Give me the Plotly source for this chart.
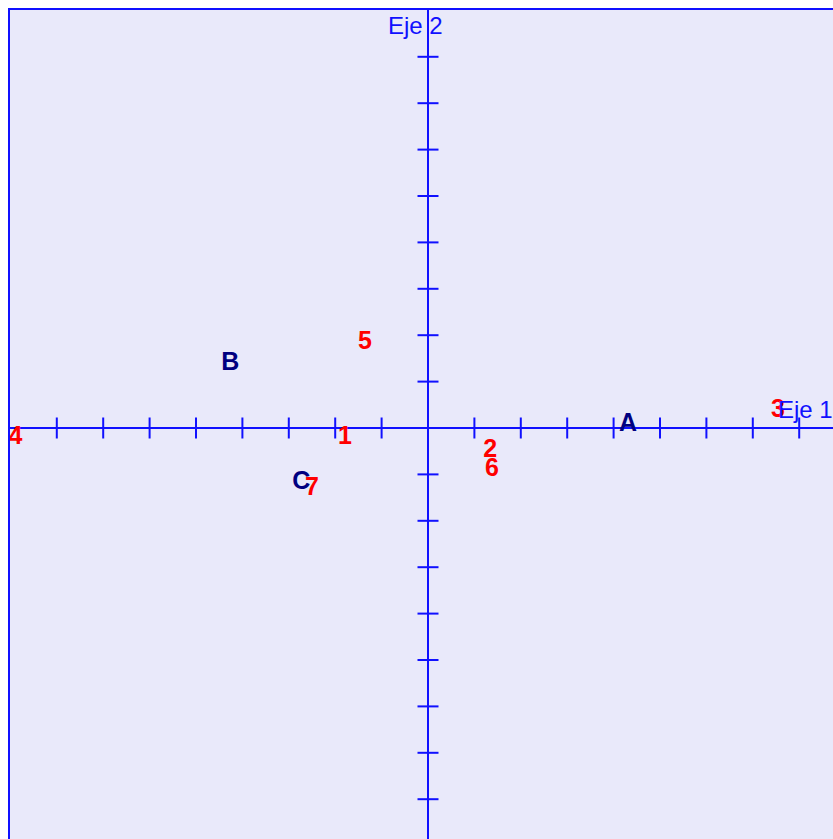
import plotly.graph_objects as go

# Row points (navy letters)
row_labels = ["A", "B", "C"]
row_x = [4.31, -4.26, -2.73]
row_y = [0.07, 1.39, -1.19]

# Column points (red numbers)
col_labels = ["1", "2", "3", "4", "5", "6", "7"]
col_x = [-1.79, 1.34, 7.54, -8.89, -1.36, 1.38, -2.50]
col_y = [-0.22, -0.50, 0.37, -0.22, 1.83, -0.89, -1.30]

# Tick positions along both axes
tick_vals = [-8, -7, -6, -5, -4, -3, -2, -1, 1, 2, 3, 4, 5, 6, 7, 8]

axis_titles = ["Eje 1", "Eje 2"]

S = 46.4  # px per unit
L, T = 10, 10
W, H = 833, 839
x0px = 428 - L
y0px = 428 - T
xmin = -x0px / S
xmax = (W - L - x0px) / S
ymax = y0px / S
ymin = -(H - T - y0px) / S

BLUE = "#1010FF"
fig = go.Figure()

# ticks on horizontal axis
fig.add_trace(go.Scatter(
    x=tick_vals, y=[0] * len(tick_vals), mode="markers",
    marker=dict(symbol="line-ns", size=15, line=dict(color=BLUE, width=2)),
    hoverinfo="skip", showlegend=False))
# ticks on vertical axis
fig.add_trace(go.Scatter(
    x=[0] * len(tick_vals), y=tick_vals, mode="markers",
    marker=dict(symbol="line-ew", size=15, line=dict(color=BLUE, width=2)),
    hoverinfo="skip", showlegend=False))

fig.add_trace(go.Scatter(
    x=col_x, y=col_y, mode="text", text=col_labels,
    textfont=dict(family="Liberation Sans", size=25, color="#FF0000", weight="bold"),
    showlegend=False))
fig.add_trace(go.Scatter(
    x=row_x, y=row_y, mode="text", text=row_labels,
    textfont=dict(family="Liberation Sans", size=25, color="#000080", weight="bold"),
    showlegend=False))

fig.add_annotation(x=7.49, y=0.39, text=axis_titles[0], showarrow=False,
                   xanchor="left", yanchor="middle",
                   font=dict(family="Liberation Sans", size=24, color=BLUE))
fig.add_annotation(x=-0.90, y=8.68, text=axis_titles[1], showarrow=False,
                   xanchor="left", yanchor="middle",
                   font=dict(family="Liberation Sans", size=24, color=BLUE))

fig.update_layout(
    width=W, height=H,
    margin=dict(l=L, r=0, t=T, b=0),
    paper_bgcolor="white", plot_bgcolor="#E9E9FA",
    xaxis=dict(range=[xmin, xmax], showgrid=False, zeroline=True,
               zerolinecolor=BLUE, zerolinewidth=2, showticklabels=False,
               ticks="", side="top", showline=True, linecolor=BLUE, linewidth=2),
    yaxis=dict(range=[ymin, ymax], showgrid=False, zeroline=True,
               zerolinecolor=BLUE, zerolinewidth=2, showticklabels=False,
               ticks="", showline=True, linecolor=BLUE, linewidth=2),
)

fig.write_html(
    "out.html",
    config={"displayModeBar": False},
    post_script="document.body.style.margin='0';document.body.style.overflow='hidden';",
)
